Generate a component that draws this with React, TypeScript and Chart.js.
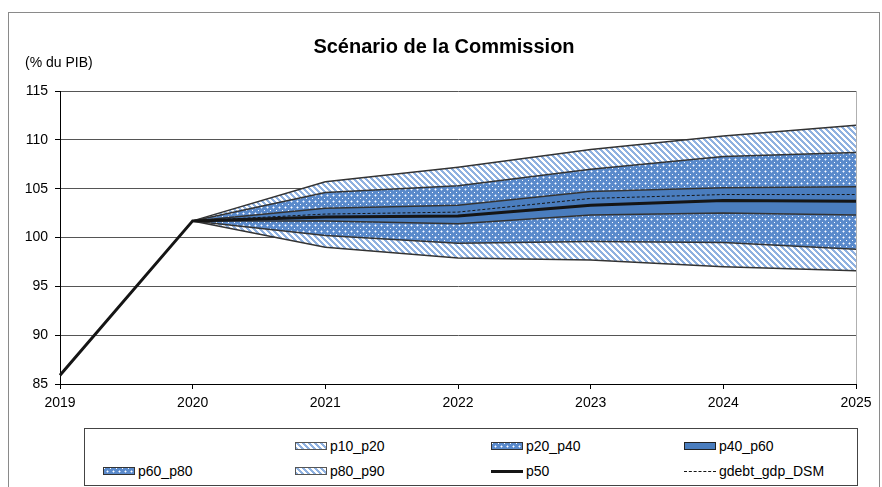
import React, { useEffect, useRef, useMemo } from "react";
import { Chart, registerables } from "chart.js";

Chart.register(...registerables);

const years = ["2019", "2020", "2021", "2022", "2023", "2024", "2025"];
const p10 = [null, 101.7, 99.0, 97.9, 97.7, 97.0, 96.6];
const p20 = [null, 101.7, 100.2, 99.4, 99.6, 99.5, 98.8];
const p40 = [null, 101.7, 101.7, 101.4, 102.3, 102.5, 102.3];
const p60 = [null, 101.7, 103.0, 103.3, 104.7, 105.1, 105.2];
const p80 = [null, 101.7, 104.6, 105.3, 107.0, 108.3, 108.7];
const p90 = [null, 101.7, 105.7, 107.2, 109.0, 110.4, 111.5];
const p50 = [85.9, 101.7, 102.1, 102.2, 103.3, 103.8, 103.7];
const dsm = [null, 101.7, 102.4, 102.6, 104.0, 104.4, 104.4];
const yTicks = [85, 90, 95, 100, 105, 110, 115];

const FONT = "'Liberation Sans', Arial, sans-serif";
const SOLID = "#4a7dbe";
const LINE = "#333333";

function makeHatch(): HTMLCanvasElement {
  const s = 6;
  const c = document.createElement("canvas");
  c.width = s;
  c.height = s;
  const ctx = c.getContext("2d")!;
  const img = ctx.createImageData(s, s);
  for (let y = 0; y < s; y++) {
    for (let x = 0; x < s; x++) {
      const k = (((x - y) % s) + s) % s;
      const i = (y * s + x) * 4;
      if (k < 3) {
        img.data[i] = 143; img.data[i + 1] = 177; img.data[i + 2] = 224;
      } else {
        img.data[i] = 255; img.data[i + 1] = 255; img.data[i + 2] = 255;
      }
      img.data[i + 3] = 255;
    }
  }
  ctx.putImageData(img, 0, 0);
  return c;
}

function makeDots(): HTMLCanvasElement {
  const s = 6;
  const c = document.createElement("canvas");
  c.width = s;
  c.height = s;
  const ctx = c.getContext("2d")!;
  ctx.fillStyle = "#5a8acb";
  ctx.fillRect(0, 0, s, s);
  ctx.fillStyle = "#a8c3ea";
  ctx.fillRect(3, 2, 1, 3);
  ctx.fillRect(2, 3, 3, 1);
  ctx.fillStyle = "#ffffff";
  ctx.fillRect(0, 0, 1, 1);
  ctx.fillRect(3, 3, 1, 1);
  return c;
}

export default function App() {
  const ref = useRef<HTMLCanvasElement>(null);
  const tiles = useMemo(() => {
    const hatch = makeHatch();
    const dots = makeDots();
    return { hatch, dots, hatchUrl: hatch.toDataURL(), dotsUrl: dots.toDataURL() };
  }, []);

  useEffect(() => {
    const canvas = ref.current!;
    const ctx = canvas.getContext("2d")!;
    const hatchP = ctx.createPattern(tiles.hatch, "repeat")!;
    const dotsP = ctx.createPattern(tiles.dots, "repeat")!;
    const band = (label: string, data: (number | null)[], bg: any, fill: any) => ({
      label,
      data,
      borderColor: LINE,
      borderWidth: 1.5,
      backgroundColor: bg,
      fill,
      pointRadius: 0,
      tension: 0,
      order: 1,
    });
    const chart = new Chart(canvas, {
      type: "line",
      data: {
        labels: years,
        datasets: [
          band("p10", p10, "transparent", false),
          band("p10_p20", p20, hatchP, "-1"),
          band("p20_p40", p40, dotsP, "-1"),
          band("p40_p60", p60, SOLID, "-1"),
          band("p60_p80", p80, dotsP, "-1"),
          band("p80_p90", p90, hatchP, "-1"),
          {
            label: "p50",
            data: p50,
            borderColor: "#151515",
            borderWidth: 3,
            pointRadius: 0,
            fill: false,
            order: 0,
          },
          {
            label: "gdebt_gdp_DSM",
            data: dsm,
            borderColor: "#151515",
            borderWidth: 1,
            borderDash: [3, 2],
            pointRadius: 0,
            fill: false,
            order: 0,
          },
        ],
      },
      options: {
        responsive: false,
        animation: false,
        layout: { padding: { left: 0, top: 91, right: 26, bottom: 73 } },
        plugins: {
          legend: { display: false },
          tooltip: { enabled: false },
          title: { display: false },
        },
        scales: {
          x: {
            offset: false,
            afterFit: (s: any) => { s.height = 30; },
            grid: {
              offset: false,
              drawOnChartArea: true,
              color: (c: any) => (c.index === 6 ? "#b0b0b0" : "transparent"),
              tickColor: "#000",
              tickLength: 5,
            },
            border: { color: "#000", width: 1 },
            ticks: {
              color: "#000",
              padding: 6,
              maxRotation: 0,
              font: { family: FONT, size: 14 },
            },
          },
          y: {
            min: 85,
            max: 115,
            afterFit: (s: any) => { s.width = 60; },
            afterBuildTicks: (s: any) => { s.ticks = yTicks.map((v) => ({ value: v })); },
            grid: {
              color: "#555555",
              tickColor: "#000",
              tickLength: 5,
            },
            border: { color: "#000", width: 1 },
            ticks: {
              color: "#000",
              padding: 7,
              font: { family: FONT, size: 14 },
            },
          },
        },
      },
    });
    return () => chart.destroy();
  }, [tiles]);

  const sw = (style: React.CSSProperties) => (
    <span
      style={{
        position: "absolute",
        width: 32,
        height: 8,
        top: -4,
        left: 0,
        boxSizing: "border-box",
        ...style,
      }}
    />
  );
  const item = (x: number, y: number, label: string, swatch: React.ReactNode) => (
    <div key={label} style={{ position: "absolute", left: x, top: y, height: 0 }}>
      {swatch}
      <span
        style={{
          position: "absolute",
          left: 35,
          top: -9,
          lineHeight: "18px",
          fontSize: 14,
          whiteSpace: "nowrap",
          color: "#000",
        }}
      >
        {label}
      </span>
    </div>
  );
  const hatchSw = sw({ backgroundImage: `url(${tiles.hatchUrl})`, border: "1px solid #555" });
  const dotsSw = sw({ backgroundImage: `url(${tiles.dotsUrl})`, border: "1px solid #333" });
  const solidSw = sw({ background: SOLID, border: "1px solid #222" });
  const lineSw = sw({ height: 3, top: -1, background: "#151515" });
  const dashSw = sw({ height: 0, top: 0, borderTop: "1px dashed #151515" });

  return (
    <div
      style={{
        position: "absolute",
        left: 0,
        top: 0,
        width: 882,
        height: 487,
        overflow: "hidden",
        background: "#fff",
        fontFamily: FONT,
      }}
    >
      <div
        style={{
          position: "absolute",
          left: 8,
          top: 12,
          width: 872,
          height: 500,
          border: "1px solid #8a8a8a",
          boxSizing: "border-box",
        }}
      />
      <canvas ref={ref} width={882} height={487} style={{ position: "absolute", left: 0, top: 0 }} />
      <div
        style={{
          position: "absolute",
          left: 8,
          width: 872,
          top: 34,
          textAlign: "center",
          fontSize: 20,
          fontWeight: "bold",
          lineHeight: "24px",
          color: "#000",
        }}
      >
        Scénario de la Commission
      </div>
      <div
        style={{
          position: "absolute",
          left: 25,
          top: 53,
          fontSize: 14,
          lineHeight: "18px",
          color: "#000",
        }}
      >
        (% du PIB)
      </div>
      <div
        style={{
          position: "absolute",
          left: 84,
          top: 428,
          width: 774,
          height: 58,
          border: "1px solid #444",
          boxSizing: "border-box",
          background: "#fff",
        }}
      />
      {item(295, 446, "p10_p20", hatchSw)}
      {item(491, 446, "p20_p40", dotsSw)}
      {item(684, 446, "p40_p60", solidSw)}
      {item(103, 471, "p60_p80", dotsSw)}
      {item(295, 471, "p80_p90", hatchSw)}
      {item(491, 471, "p50", lineSw)}
      {item(684, 471, "gdebt_gdp_DSM", dashSw)}
    </div>
  );
}
